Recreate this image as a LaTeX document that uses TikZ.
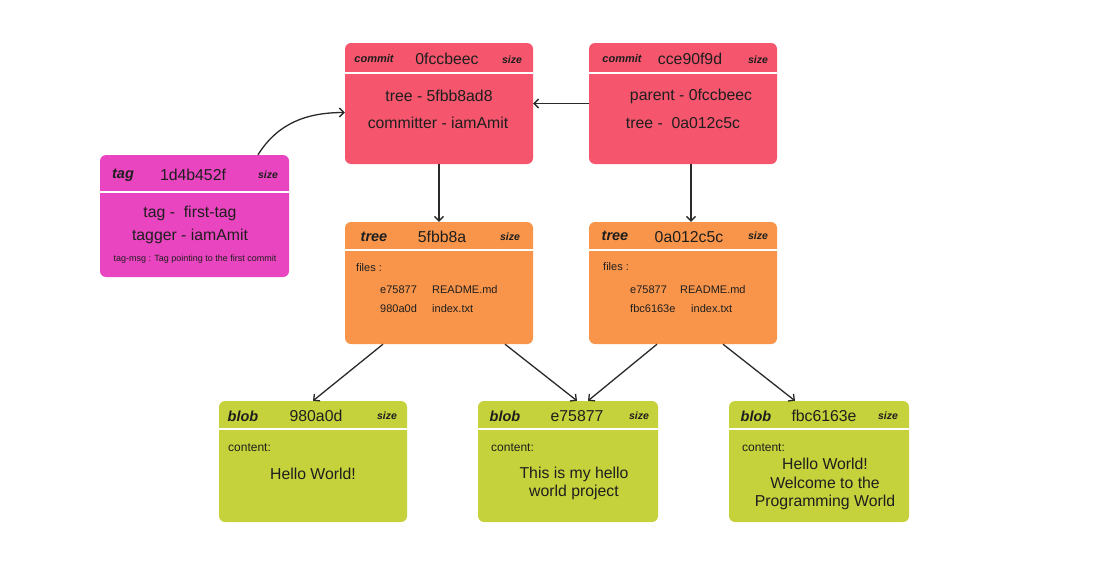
\documentclass[tikz,border=0pt]{standalone}
\usepackage{fontspec}
\setmainfont{Liberation Sans}
\usetikzlibrary{arrows.meta}
\definecolor{commitc}{HTML}{F5566D}
\definecolor{tagc}{HTML}{EA45C0}
\definecolor{treec}{HTML}{F8954B}
\definecolor{blobc}{HTML}{C6D23B}
\definecolor{ink}{HTML}{1E1E1E}
\definecolor{linec}{HTML}{2A2A2A}
\tikzset{
  box/.style={rectangle, rounded corners=6pt, draw=none, inner sep=0pt},
  divider/.style={white, line width=2pt},
  kind/.style={font=\fontsize{14.5}{16}\selectfont\bfseries\itshape, text=ink, inner sep=0pt},
  kindsmall/.style={font=\fontsize{11}{13}\selectfont\bfseries\itshape, text=ink, inner sep=0pt},
  sizel/.style={font=\fontsize{10.5}{12}\selectfont\bfseries\itshape, text=ink, inner sep=0pt},
  hash/.style={font=\fontsize{15.8}{17}\selectfont, text=ink, inner sep=0pt},
  body/.style={font=\fontsize{15.8}{18.5}\selectfont, text=ink, inner sep=0pt, align=center},
  small/.style={font=\fontsize{11}{12}\selectfont, text=ink, inner sep=0pt, anchor=west},
  content/.style={font=\fontsize{12}{13}\selectfont, text=ink, inner sep=0pt, anchor=west},
  tiny/.style={font=\fontsize{9}{10}\selectfont, text=ink, inner sep=0pt},
  arr/.style={draw=linec, line width=1.3pt, -{Straight Barb[length=4.5pt,width=9pt]}},
}
\begin{document}
\begin{tikzpicture}[x=1pt,y=-1pt]
\useasboundingbox[fill=white] (0,0) rectangle (1094,562);

% ---------- boxes ----------
\node[box, fill=commitc, minimum width=188pt, minimum height=121pt] (c1) at (439,103.5) {};
\node[box, fill=commitc, minimum width=188pt, minimum height=121pt] (c2) at (683,103.5) {};
\node[box, fill=tagc, minimum width=189pt, minimum height=122pt] (tg) at (194.5,216) {};
\node[box, fill=treec, minimum width=188pt, minimum height=122pt] (t1) at (439,283) {};
\node[box, fill=treec, minimum width=188pt, minimum height=122pt] (t2) at (683,283) {};
\node[box, fill=blobc, minimum width=188pt, minimum height=121pt] (b1) at (313,461.5) {};
\node[box, fill=blobc, minimum width=180pt, minimum height=121pt] (b2) at (568,461.5) {};
\node[box, fill=blobc, minimum width=180pt, minimum height=121pt] (b3) at (819,461.5) {};

% ---------- dividers ----------
\draw[divider] (345,73) -- (533,73);
\draw[divider] (589,73) -- (777,73);
\draw[divider] (100,192) -- (289,192);
\draw[divider] (345,250) -- (533,250);
\draw[divider] (589,250) -- (777,250);
\draw[divider] (219,429) -- (407,429);
\draw[divider] (478,429) -- (658,429);
\draw[divider] (729,429) -- (909,429);

% ---------- commit 1 ----------
\node[kindsmall] (c1k) at (374,59) {commit};
\node[hash] (c1h) at (447,59) {0fccbeec};
\node[sizel] (c1s) at (512,60) {size};
\node[body] (c1a) at (439,96) {tree - 5fbb8ad8};
\node[body] (c1b) at (438,123) {committer - iamAmit};

% ---------- commit 2 ----------
\node[kindsmall] (c2k) at (622,59) {commit};
\node[hash] (c2h) at (690,59) {cce90f9d};
\node[sizel] (c2s) at (758,60) {size};
\node[body] (c2a) at (691,96) {parent - 0fccbeec};
\node[body] (c2b) at (683,123) {tree -\ \ 0a012c5c};

% ---------- tag ----------
\node[kind] (tgk) at (123,175) {tag};
\node[hash] (tgh) at (193,175) {1d4b452f};
\node[sizel] (tgs) at (268,175) {size};
\node[body] (tga) at (190,213) {tag -\ \ first-tag};
\node[body] (tgb) at (190,236) {tagger - iamAmit};
\node[tiny] (tgc) at (195,259) {tag-msg : Tag pointing to the first commit};

% ---------- tree 1 ----------
\node[kind] (t1k) at (374,237) {tree};
\node[hash] (t1h) at (442,237) {5fbb8a};
\node[sizel] (t1s) at (510,237) {size};
\node[small] (t1f) at (356,268) {files :};
\node[small] (t1a) at (380,290) {e75877};
\node[small] (t1b) at (432,290) {README.md};
\node[small] (t1c) at (380,309) {980a0d};
\node[small] (t1d) at (432,309) {index.txt};

% ---------- tree 2 ----------
\node[kind] (t2k) at (615,236) {tree};
\node[hash] (t2h) at (689,237) {0a012c5c};
\node[sizel] (t2s) at (758,236) {size};
\node[small] (t2f) at (603,267) {files :};
\node[small] (t2a) at (630,290) {e75877};
\node[small] (t2b) at (680,290) {README.md};
\node[small] (t2c) at (630,309) {fbc6163e};
\node[small] (t2d) at (691,309) {index.txt};

% ---------- blob 1 ----------
\node[kind] (b1k) at (243,416) {blob};
\node[hash] (b1h) at (316,416) {980a0d};
\node[sizel] (b1s) at (387,416) {size};
\node[content] (b1c) at (228,448) {content:};
\node[body] (b1t) at (313,474) {Hello World!};

% ---------- blob 2 ----------
\node[kind] (b2k) at (505,416) {blob};
\node[hash] (b2h) at (577,416) {e75877};
\node[sizel] (b2s) at (639,416) {size};
\node[content] (b2c) at (491,448) {content:};
\node[body] (b2t) at (574,483.5) {This is my hello\\world project};

% ---------- blob 3 ----------
\node[kind] (b3k) at (756,416) {blob};
\node[hash] (b3h) at (824,416) {fbc6163e};
\node[sizel] (b3s) at (888,416) {size};
\node[content] (b3c) at (742,448) {content:};
\node[body] (b3t) at (825,484) {Hello World!\\Welcome to the\\Programming World};

% ---------- connectors ----------
\draw[arr] ([xshift=63.5pt]tg.north) to[out=58,in=180] ([yshift=-9pt]c1.west);
\draw[arr] (c2.west) -- (c1.east);
\draw[arr] (c1.south) -- (t1.north);
\draw[arr] ([xshift=8pt]c2.south) -- ([xshift=8pt]t2.north);
\draw[arr] ([xshift=-56pt]t1.south) -- (b1.north);
\draw[arr] ([xshift=66pt]t1.south) -- ([xshift=9pt]b2.north);
\draw[arr] ([xshift=-26pt]t2.south) -- ([xshift=20pt]b2.north);
\draw[arr] ([xshift=40pt]t2.south) -- ([xshift=-24pt]b3.north);
\end{tikzpicture}
\end{document}
